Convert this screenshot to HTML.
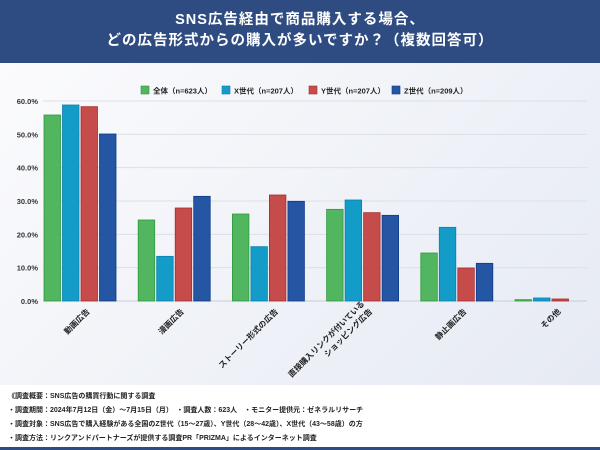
<!DOCTYPE html>
<html><head><meta charset="utf-8">
<style>
body{margin:0;width:600px;height:450px;overflow:hidden;font-family:"Liberation Sans","Noto Sans CJK JP",sans-serif;background:#fff}
#hdr{position:absolute;left:0;top:0;width:600px;height:63px;background:#2f4c82;color:#fff;text-align:center;font-weight:bold;font-size:14.5px;line-height:21px;padding-top:10px;box-sizing:border-box;letter-spacing:1px}
#chartbg{position:absolute;left:0;top:63px;width:600px;height:322px;background:linear-gradient(135deg,#fbfbfd 0%,#eef1f7 60%,#e6eaf3 100%)}
#foot{position:absolute;left:8px;top:390px;font-size:7px;font-weight:bold;color:#222;line-height:14px}
#band{position:absolute;left:0;top:447px;width:600px;height:3px;background:#2f4c82}
</style></head><body>
<div id="hdr">SNS広告経由で商品購入する場合、<br>どの広告形式からの購入が多いですか？（複数回答可）</div>
<div id="chartbg"></div>
<svg id="chart" width="600" height="450" style="position:absolute;left:0;top:0"></svg>
<div id="foot">
《調査概要：SNS広告の購買行動に関する調査<br>
・調査期間：2024年7月12日（金）～7月15日（月）　・調査人数：623人　・モニター提供元：ゼネラルリサーチ<br>
・調査対象：SNS広告で購入経験がある全国のZ世代（15～27歳）、Y世代（28～42歳）、X世代（43～58歳）の方<br>
・調査方法：リンクアンドパートナーズが提供する調査PR「PRIZMA」によるインターネット調査</div>
<div id="band"></div>
<script>
const categories=["動画広告","漫画広告","ストーリー形式の広告","直接購入リンクが付いている\nショッピング広告","静止画広告","その他"];
const seriesNames=["全体（n=623人）","X世代（n=207人）","Y世代（n=207人）","Z世代（n=209人）"];
const sAll=[55.8,24.3,26.1,27.5,14.4,0.4];
const sX=[58.8,13.4,16.3,30.3,22.1,0.9];
const sY=[58.3,27.9,31.8,26.5,9.9,0.6];
const sZ=[50.1,31.4,29.9,25.7,11.3,0];
const yTicks=[0,10,20,30,40,50,60];
const colors=["#52b55f","#139cc8","#c64b4b","#2556a3"];
const strokes=["#2f9a3d","#0b7fae","#a82c2c","#0d3a8a"];
const series=[sAll,sX,sY,sZ];
const svg=document.getElementById('chart');const NS="http://www.w3.org/2000/svg";
function mk(t,a){const e=document.createElementNS(NS,t);for(const k in a)e.setAttribute(k,a[k]);svg.appendChild(e);return e;}
const y0=301,yTop=101,yMax=60;
function yS(v){return y0-(v/yMax)*(y0-yTop);}
const gStart=44,gStep=94.2,bStep=18.5,bW=16.5;
function xS(i,j){return gStart+i*gStep+j*bStep;}
yTicks.forEach(t=>{
 const l=mk('line',{x1:43,x2:587,y1:yS(t),y2:yS(t),stroke:t==0?'#c8ccd4':'#dcdfe6','stroke-width':1});
 
 
 const tx=mk('text',{x:38,y:yS(t)+3,'text-anchor':'end','font-size':7.5,'font-weight':'bold',fill:'#333'});
 tx.textContent=t.toFixed(1)+'%';
 
 
});
series.forEach((s,j)=>{s.forEach((v,i)=>{
 const r=mk('rect',{x:xS(i,j),y:yS(v),width:bW,height:y0-yS(v),fill:colors[j],stroke:strokes[j],'stroke-width':0.8});
 
 
});});
categories.forEach((c,i)=>{
 const cx=xS(i,0)+2*bStep-1;
 const lines=c.split('\n');
 const g=document.createElementNS(NS,'g');svg.appendChild(g);
 g.setAttribute('transform','translate('+(cx+8)+',310) rotate(-45)');
 
 
 lines.forEach((ln,k)=>{const t=document.createElementNS(NS,'text');
  t.setAttribute('x',0);t.setAttribute('y',(k-(lines.length-1))*11+3);t.setAttribute('text-anchor','end');
  t.setAttribute('font-size',8);t.setAttribute('font-weight','bold');t.setAttribute('fill','#222');
  t.textContent=ln;g.appendChild(t);});
});
const lx=[141,222,309,392];
seriesNames.forEach((n,j)=>{
 const r=mk('rect',{x:lx[j],y:86,width:8,height:8,fill:colors[j],stroke:strokes[j],'stroke-width':0.6});
 
 
 const t=mk('text',{x:lx[j]+12,y:93.5,'font-size':7.5,'font-weight':'bold',fill:'#222'});
 t.textContent=n;
 
 
});
</script>
</body></html>
